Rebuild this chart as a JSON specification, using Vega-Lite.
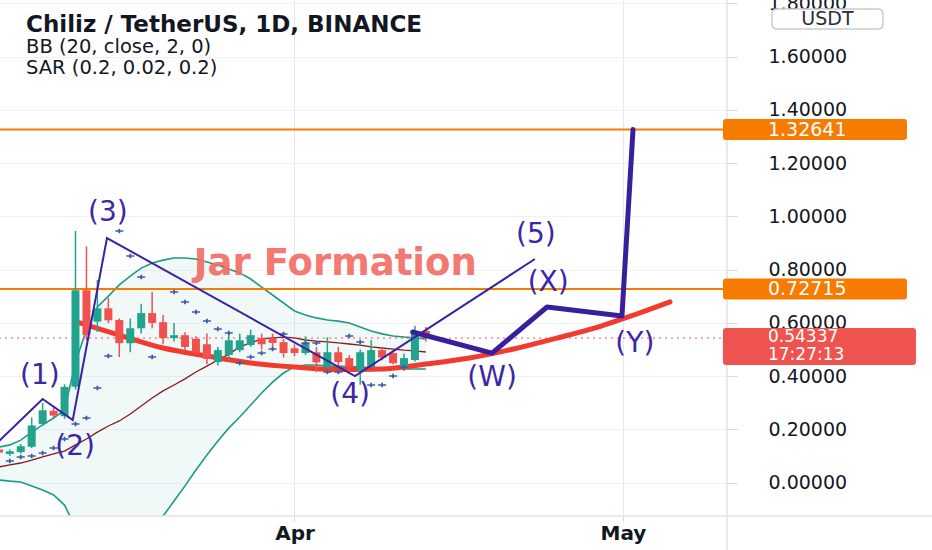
{
  "$schema": "https://vega.github.io/schema/vega-lite/v6.json",
  "width": 727,
  "height": 516,
  "autosize": {"type": "none"},
  "padding": {"left": 0, "top": 0, "right": 205, "bottom": 34},
  "background": "#ffffff",
  "config": {"view": {"stroke": null}, "font": "DejaVu Sans"},
  "title": {
    "text": "Chiliz / TetherUS, 1D, BINANCE",
    "subtitle": ["BB (20, close, 2, 0)", "SAR (0.2, 0.02, 0.2)"],
    "anchor": "start",
    "frame": "group",
    "orient": "top",
    "offset": -83,
    "dx": 26,
    "font": "DejaVu Sans",
    "fontSize": 23,
    "fontWeight": "bold",
    "color": "#131722",
    "subtitleFont": "DejaVu Sans",
    "subtitleFontSize": 19.5,
    "subtitleColor": "#131722",
    "subtitlePadding": 1,
    "subtitleLineHeight": 21
  },
  "datasets": {
    "candles": [
      {"date": "2021-03-05", "open": 0.125, "high": 0.13, "low": 0.105, "close": 0.113},
      {"date": "2021-03-06", "open": 0.108, "high": 0.125, "low": 0.1, "close": 0.118},
      {"date": "2021-03-07", "open": 0.115, "high": 0.145, "low": 0.11, "close": 0.137},
      {"date": "2021-03-08", "open": 0.135, "high": 0.245, "low": 0.13, "close": 0.215},
      {"date": "2021-03-09", "open": 0.22, "high": 0.3, "low": 0.215, "close": 0.272},
      {"date": "2021-03-10", "open": 0.27, "high": 0.285, "low": 0.245, "close": 0.252},
      {"date": "2021-03-11", "open": 0.25, "high": 0.37, "low": 0.24, "close": 0.36},
      {"date": "2021-03-12", "open": 0.36, "high": 0.946, "low": 0.35, "close": 0.723},
      {"date": "2021-03-13", "open": 0.723, "high": 0.888, "low": 0.535, "close": 0.555},
      {"date": "2021-03-14", "open": 0.605, "high": 0.761, "low": 0.566, "close": 0.655},
      {"date": "2021-03-15", "open": 0.655, "high": 0.694, "low": 0.6, "close": 0.61},
      {"date": "2021-03-16", "open": 0.611, "high": 0.617, "low": 0.472, "close": 0.524},
      {"date": "2021-03-17", "open": 0.524, "high": 0.617, "low": 0.49, "close": 0.58},
      {"date": "2021-03-18", "open": 0.58, "high": 0.672, "low": 0.56, "close": 0.637},
      {"date": "2021-03-19", "open": 0.637, "high": 0.716, "low": 0.58, "close": 0.6},
      {"date": "2021-03-20", "open": 0.603, "high": 0.63, "low": 0.52, "close": 0.543},
      {"date": "2021-03-21", "open": 0.543, "high": 0.6, "low": 0.53, "close": 0.554},
      {"date": "2021-03-22", "open": 0.554, "high": 0.565, "low": 0.495, "close": 0.51},
      {"date": "2021-03-23", "open": 0.54, "high": 0.55, "low": 0.48, "close": 0.49},
      {"date": "2021-03-24", "open": 0.52, "high": 0.56, "low": 0.445, "close": 0.465},
      {"date": "2021-03-25", "open": 0.453, "high": 0.51, "low": 0.44, "close": 0.498},
      {"date": "2021-03-26", "open": 0.48, "high": 0.56, "low": 0.46, "close": 0.535},
      {"date": "2021-03-27", "open": 0.498, "high": 0.56, "low": 0.49, "close": 0.535},
      {"date": "2021-03-28", "open": 0.517, "high": 0.575, "low": 0.51, "close": 0.554},
      {"date": "2021-03-29", "open": 0.543, "high": 0.56, "low": 0.5, "close": 0.52},
      {"date": "2021-03-30", "open": 0.543, "high": 0.56, "low": 0.5, "close": 0.525},
      {"date": "2021-03-31", "open": 0.528, "high": 0.54, "low": 0.47, "close": 0.487},
      {"date": "2021-04-01", "open": 0.505, "high": 0.52, "low": 0.475, "close": 0.487},
      {"date": "2021-04-02", "open": 0.487, "high": 0.55, "low": 0.48, "close": 0.525},
      {"date": "2021-04-03", "open": 0.49, "high": 0.51, "low": 0.415, "close": 0.452},
      {"date": "2021-04-04", "open": 0.434, "high": 0.546, "low": 0.43, "close": 0.49},
      {"date": "2021-04-05", "open": 0.49, "high": 0.51, "low": 0.44, "close": 0.453},
      {"date": "2021-04-06", "open": 0.468, "high": 0.48, "low": 0.415, "close": 0.434},
      {"date": "2021-04-07", "open": 0.42, "high": 0.5, "low": 0.368, "close": 0.49},
      {"date": "2021-04-08", "open": 0.434, "high": 0.535, "low": 0.43, "close": 0.498},
      {"date": "2021-04-09", "open": 0.498, "high": 0.51, "low": 0.46, "close": 0.47},
      {"date": "2021-04-10", "open": 0.487, "high": 0.49, "low": 0.445, "close": 0.449},
      {"date": "2021-04-11", "open": 0.434, "high": 0.485, "low": 0.42, "close": 0.468},
      {"date": "2021-04-12", "open": 0.461, "high": 0.59, "low": 0.455, "close": 0.566},
      {"date": "2021-04-13", "open": 0.57, "high": 0.585, "low": 0.53, "close": 0.54337}
    ],
    "bb": [
      {"date": "2021-03-05", "upper": 0.134, "basis": 0.059, "lower": 0.01},
      {"date": "2021-03-06", "upper": 0.142, "basis": 0.067, "lower": 0.006},
      {"date": "2021-03-07", "upper": 0.16, "basis": 0.074, "lower": 0.003},
      {"date": "2021-03-08", "upper": 0.19, "basis": 0.085, "lower": -0.012},
      {"date": "2021-03-09", "upper": 0.217, "basis": 0.097, "lower": -0.027},
      {"date": "2021-03-10", "upper": 0.243, "basis": 0.108, "lower": -0.046},
      {"date": "2021-03-11", "upper": 0.273, "basis": 0.119, "lower": -0.084},
      {"date": "2021-03-12", "upper": 0.453, "basis": 0.142, "lower": -0.17},
      {"date": "2021-03-13", "upper": 0.574, "basis": 0.164, "lower": -0.245},
      {"date": "2021-03-14", "upper": 0.66, "basis": 0.19, "lower": -0.279},
      {"date": "2021-03-15", "upper": 0.701, "basis": 0.213, "lower": -0.275},
      {"date": "2021-03-16", "upper": 0.743, "basis": 0.232, "lower": -0.279},
      {"date": "2021-03-17", "upper": 0.776, "basis": 0.258, "lower": -0.26},
      {"date": "2021-03-18", "upper": 0.806, "basis": 0.288, "lower": -0.23},
      {"date": "2021-03-19", "upper": 0.825, "basis": 0.318, "lower": -0.189},
      {"date": "2021-03-20", "upper": 0.836, "basis": 0.345, "lower": -0.125},
      {"date": "2021-03-21", "upper": 0.844, "basis": 0.367, "lower": -0.069},
      {"date": "2021-03-22", "upper": 0.844, "basis": 0.39, "lower": -0.012},
      {"date": "2021-03-23", "upper": 0.84, "basis": 0.416, "lower": 0.048},
      {"date": "2021-03-24", "upper": 0.829, "basis": 0.438, "lower": 0.104},
      {"date": "2021-03-25", "upper": 0.818, "basis": 0.461, "lower": 0.157},
      {"date": "2021-03-26", "upper": 0.803, "basis": 0.483, "lower": 0.205},
      {"date": "2021-03-27", "upper": 0.788, "basis": 0.51, "lower": 0.247},
      {"date": "2021-03-28", "upper": 0.765, "basis": 0.525, "lower": 0.292},
      {"date": "2021-03-29", "upper": 0.735, "basis": 0.54, "lower": 0.337},
      {"date": "2021-03-30", "upper": 0.705, "basis": 0.544, "lower": 0.378},
      {"date": "2021-03-31", "upper": 0.675, "basis": 0.547, "lower": 0.412},
      {"date": "2021-04-01", "upper": 0.645, "basis": 0.544, "lower": 0.435},
      {"date": "2021-04-02", "upper": 0.63, "basis": 0.536, "lower": 0.442},
      {"date": "2021-04-03", "upper": 0.619, "basis": 0.532, "lower": 0.442},
      {"date": "2021-04-04", "upper": 0.611, "basis": 0.529, "lower": 0.438},
      {"date": "2021-04-05", "upper": 0.607, "basis": 0.525, "lower": 0.438},
      {"date": "2021-04-06", "upper": 0.6, "basis": 0.521, "lower": 0.435},
      {"date": "2021-04-07", "upper": 0.585, "basis": 0.517, "lower": 0.435},
      {"date": "2021-04-08", "upper": 0.57, "basis": 0.51, "lower": 0.431},
      {"date": "2021-04-09", "upper": 0.559, "basis": 0.506, "lower": 0.431},
      {"date": "2021-04-10", "upper": 0.551, "basis": 0.502, "lower": 0.431},
      {"date": "2021-04-11", "upper": 0.547, "basis": 0.498, "lower": 0.427},
      {"date": "2021-04-12", "upper": 0.544, "basis": 0.495, "lower": 0.427},
      {"date": "2021-04-13", "upper": 0.54, "basis": 0.491, "lower": 0.427}
    ],
    "sar": [
      {"date": "2021-03-06", "sar": 0.0815},
      {"date": "2021-03-07", "sar": 0.0965},
      {"date": "2021-03-08", "sar": 0.1003},
      {"date": "2021-03-09", "sar": 0.1115},
      {"date": "2021-03-10", "sar": 0.1303},
      {"date": "2021-03-11", "sar": 0.1641},
      {"date": "2021-03-12", "sar": 0.2205},
      {"date": "2021-03-13", "sar": 0.243},
      {"date": "2021-03-14", "sar": 0.3557},
      {"date": "2021-03-15", "sar": 0.4759},
      {"date": "2021-03-16", "sar": 0.9453},
      {"date": "2021-03-17", "sar": 0.8515},
      {"date": "2021-03-18", "sar": 0.7726},
      {"date": "2021-03-19", "sar": 0.4722},
      {"date": "2021-03-21", "sar": 0.7163},
      {"date": "2021-03-22", "sar": 0.6787},
      {"date": "2021-03-23", "sar": 0.6412},
      {"date": "2021-03-24", "sar": 0.6073},
      {"date": "2021-03-25", "sar": 0.5773},
      {"date": "2021-03-26", "sar": 0.5623},
      {"date": "2021-03-27", "sar": 0.4496},
      {"date": "2021-03-28", "sar": 0.4722},
      {"date": "2021-03-29", "sar": 0.4872},
      {"date": "2021-03-30", "sar": 0.5022},
      {"date": "2021-03-31", "sar": 0.5585},
      {"date": "2021-04-02", "sar": 0.5247},
      {"date": "2021-04-03", "sar": 0.5247},
      {"date": "2021-04-04", "sar": 0.4158},
      {"date": "2021-04-05", "sar": 0.4158},
      {"date": "2021-04-06", "sar": 0.551},
      {"date": "2021-04-07", "sar": 0.5285},
      {"date": "2021-04-08", "sar": 0.367},
      {"date": "2021-04-09", "sar": 0.367},
      {"date": "2021-04-10", "sar": 0.4008},
      {"date": "2021-04-11", "sar": 0.4346}
    ],
    "jar": [
      {"date": "2021-03-12T00:00:00Z", "price": 0.6054},
      {"date": "2021-03-16T00:00:00Z", "price": 0.5547},
      {"date": "2021-03-20T00:00:00Z", "price": 0.5059},
      {"date": "2021-03-24T00:00:00Z", "price": 0.4759},
      {"date": "2021-03-28T00:00:00Z", "price": 0.4496},
      {"date": "2021-04-01T00:00:00Z", "price": 0.4346},
      {"date": "2021-04-05T00:00:00Z", "price": 0.4252},
      {"date": "2021-04-09T00:00:00Z", "price": 0.4271},
      {"date": "2021-04-13T00:00:00Z", "price": 0.4458},
      {"date": "2021-04-17T00:00:00Z", "price": 0.4684},
      {"date": "2021-04-21T00:00:00Z", "price": 0.5022},
      {"date": "2021-04-25T00:00:00Z", "price": 0.5435},
      {"date": "2021-04-29T00:00:00Z", "price": 0.5885},
      {"date": "2021-05-02T00:00:00Z", "price": 0.6299},
      {"date": "2021-05-05T07:00:00Z", "price": 0.679}
    ],
    "wave": [
      {"date": "2021-03-04T00:00:00Z", "price": 0.1157},
      {"date": "2021-03-09T00:00:00Z", "price": 0.3144},
      {"date": "2021-03-11T18:00:00Z", "price": 0.2355},
      {"date": "2021-03-14T21:00:00Z", "price": 0.919},
      {"date": "2021-04-06T12:30:00Z", "price": 0.4008},
      {"date": "2021-04-22T23:00:00Z", "price": 0.8403}
    ],
    "projection": [
      {"date": "2021-04-11T19:00:00Z", "price": 0.566},
      {"date": "2021-04-19T01:00:00Z", "price": 0.487},
      {"date": "2021-04-24T01:30:00Z", "price": 0.66},
      {"date": "2021-04-30T21:45:00Z", "price": 0.626},
      {"date": "2021-05-01T22:00:00Z", "price": 1.3264}
    ],
    "waveLabels": [
      {"date": "2021-03-08T18:00:00Z", "price": 0.4008, "label": "(1)"},
      {"date": "2021-03-11T23:00:00Z", "price": 0.1345, "label": "(2)"},
      {"date": "2021-03-14T23:00:00Z", "price": 1.013, "label": "(3)"},
      {"date": "2021-04-06T02:00:00Z", "price": 0.3294, "label": "(4)"},
      {"date": "2021-04-23T01:00:00Z", "price": 0.9302, "label": "(5)"},
      {"date": "2021-04-19T01:00:00Z", "price": 0.3932, "label": "(W)"},
      {"date": "2021-04-24T04:00:00Z", "price": 0.75, "label": "(X)"},
      {"date": "2021-05-02T02:00:00Z", "price": 0.5209, "label": "(Y)"}
    ],
    "note": [
      {"date": "2021-04-04T17:30:00Z", "price": 0.8215, "label": "Jar Formation"}
    ],
    "levels": [
      {"price": 1.32641, "label": "1.32641"},
      {"price": 0.72715, "label": "0.72715"}
    ],
    "last": [
      {"price": 0.54337, "label": "0.54337", "countdown": "17:27:13"}
    ]
  },
  "layer": [
    {
      "data": {"name": "bb"},
      "mark": {"type": "area", "clip": true, "color": "#b9dde0", "opacity": 0.22},
      "encoding": {
        "x": {
          "field": "date", "type": "temporal",
          "scale": {"type": "utc", "padding": 0, "domain": [{"year": 2021, "month": 3, "date": 5, "hours": 2, "minutes": 31, "utc": true}, {"year": 2021, "month": 5, "date": 10, "hours": 12, "utc": true}]},
          "axis": {
            "values": [{"year": 2021, "month": 4, "date": 1, "utc": true}, {"year": 2021, "month": 5, "date": 1, "utc": true}],
            "format": "%b", "title": null, "domain": false,
            "labelFont": "DejaVu Sans", "labelFontSize": 20, "labelFontWeight": "bold", "labelColor": "#131722",
            "labelBaseline": "middle", "labelPadding": 12, "labelFlush": false,
            "ticks": true, "tickSize": 5, "tickColor": "#d6d9e0",
            "grid": true, "gridColor": "#e6e8ee", "gridWidth": 1
          }
        },
        "y": {
          "field": "lower", "type": "quantitative",
          "scale": {"domain": [-0.125, 1.813], "nice": false, "zero": false},
          "axis": {
            "orient": "right",
            "values": [0, 0.2, 0.4, 0.6, 0.8, 1.0, 1.2, 1.4, 1.6, 1.8],
            "format": ".5f", "title": null, "domain": false,
            "labelFont": "DejaVu Sans", "labelFontSize": 19, "labelColor": "#131722",
            "labelAlign": "left", "labelPadding": 31, "labelOverlap": false,
            "ticks": true, "tickSize": 10, "tickColor": "#d6d9e0",
            "grid": true, "gridColor": "#eff1f5", "gridWidth": 1
          }
        },
        "y2": {"field": "upper"}
      }
    },
    {
      "data": {"name": "bb"},
      "mark": {"type": "line", "clip": true, "color": "#1e9b85", "strokeWidth": 1.6},
      "encoding": {
        "x": {"field": "date", "type": "temporal", "scale": {"type": "utc", "padding": 0, "domain": [{"year": 2021, "month": 3, "date": 5, "hours": 2, "minutes": 31, "utc": true}, {"year": 2021, "month": 5, "date": 10, "hours": 12, "utc": true}]}},
        "y": {"field": "upper", "type": "quantitative", "scale": {"domain": [-0.125, 1.813], "nice": false, "zero": false}}
      }
    },
    {
      "data": {"name": "bb"},
      "mark": {"type": "line", "clip": true, "color": "#1e9b85", "strokeWidth": 1.6},
      "encoding": {
        "x": {"field": "date", "type": "temporal", "scale": {"type": "utc", "padding": 0, "domain": [{"year": 2021, "month": 3, "date": 5, "hours": 2, "minutes": 31, "utc": true}, {"year": 2021, "month": 5, "date": 10, "hours": 12, "utc": true}]}},
        "y": {"field": "lower", "type": "quantitative", "scale": {"domain": [-0.125, 1.813], "nice": false, "zero": false}}
      }
    },
    {
      "data": {"name": "bb"},
      "mark": {"type": "line", "clip": true, "color": "#8b1a1a", "strokeWidth": 1.3},
      "encoding": {
        "x": {"field": "date", "type": "temporal", "scale": {"type": "utc", "padding": 0, "domain": [{"year": 2021, "month": 3, "date": 5, "hours": 2, "minutes": 31, "utc": true}, {"year": 2021, "month": 5, "date": 10, "hours": 12, "utc": true}]}},
        "y": {"field": "basis", "type": "quantitative", "scale": {"domain": [-0.125, 1.813], "nice": false, "zero": false}}
      }
    },
    {
      "data": {"name": "levels"},
      "mark": {"type": "rule", "color": "#f57c00", "strokeWidth": 2},
      "encoding": {
        "y": {"field": "price", "type": "quantitative", "scale": {"domain": [-0.125, 1.813], "nice": false, "zero": false}}
      }
    },
    {
      "data": {"name": "last"},
      "mark": {"type": "rule", "color": "#ef5350", "strokeWidth": 1, "strokeDash": [2, 4]},
      "encoding": {
        "y": {"field": "price", "type": "quantitative", "scale": {"domain": [-0.125, 1.813], "nice": false, "zero": false}}
      }
    },
    {
      "data": {"name": "jar"},
      "mark": {"type": "line", "interpolate": "monotone", "color": "#f23a2e", "strokeWidth": 5, "strokeCap": "round"},
      "encoding": {
        "x": {"field": "date", "type": "temporal", "scale": {"type": "utc", "padding": 0, "domain": [{"year": 2021, "month": 3, "date": 5, "hours": 2, "minutes": 31, "utc": true}, {"year": 2021, "month": 5, "date": 10, "hours": 12, "utc": true}]}},
        "y": {"field": "price", "type": "quantitative", "scale": {"domain": [-0.125, 1.813], "nice": false, "zero": false}}
      }
    },
    {
      "data": {"name": "candles"},
      "mark": {"type": "rule", "strokeWidth": 1.5, "clip": true},
      "encoding": {
        "x": {"field": "date", "type": "temporal", "scale": {"type": "utc", "padding": 0, "domain": [{"year": 2021, "month": 3, "date": 5, "hours": 2, "minutes": 31, "utc": true}, {"year": 2021, "month": 5, "date": 10, "hours": 12, "utc": true}]}},
        "y": {"field": "low", "type": "quantitative", "scale": {"domain": [-0.125, 1.813], "nice": false, "zero": false}},
        "y2": {"field": "high"},
        "color": {"condition": {"test": "datum.close > datum.open", "value": "#22a38e"}, "value": "#f0514f"}
      }
    },
    {
      "data": {"name": "candles"},
      "mark": {"type": "bar", "width": 8, "clip": true},
      "encoding": {
        "x": {"field": "date", "type": "temporal", "scale": {"type": "utc", "padding": 0, "domain": [{"year": 2021, "month": 3, "date": 5, "hours": 2, "minutes": 31, "utc": true}, {"year": 2021, "month": 5, "date": 10, "hours": 12, "utc": true}]}},
        "y": {"field": "open", "type": "quantitative", "scale": {"domain": [-0.125, 1.813], "nice": false, "zero": false}},
        "y2": {"field": "close"},
        "color": {"condition": {"test": "datum.close > datum.open", "value": "#22a38e"}, "value": "#f0514f"}
      }
    },
    {
      "data": {"name": "sar"},
      "mark": {"type": "point", "filled": true, "opacity": 1, "size": 64, "color": "#3d5aa8", "shape": "M-1,-0.18H1V0.18H-1Z M-0.22,-0.55H0.22V0.55H-0.22Z"},
      "encoding": {
        "x": {"field": "date", "type": "temporal", "scale": {"type": "utc", "padding": 0, "domain": [{"year": 2021, "month": 3, "date": 5, "hours": 2, "minutes": 31, "utc": true}, {"year": 2021, "month": 5, "date": 10, "hours": 12, "utc": true}]}},
        "y": {"field": "sar", "type": "quantitative", "scale": {"domain": [-0.125, 1.813], "nice": false, "zero": false}}
      }
    },
    {
      "data": {"name": "wave"},
      "mark": {"type": "line", "clip": true, "color": "#3b22a3", "strokeWidth": 2},
      "encoding": {
        "x": {"field": "date", "type": "temporal", "scale": {"type": "utc", "padding": 0, "domain": [{"year": 2021, "month": 3, "date": 5, "hours": 2, "minutes": 31, "utc": true}, {"year": 2021, "month": 5, "date": 10, "hours": 12, "utc": true}]}},
        "y": {"field": "price", "type": "quantitative", "scale": {"domain": [-0.125, 1.813], "nice": false, "zero": false}}
      }
    },
    {
      "data": {"name": "projection"},
      "mark": {"type": "line", "color": "#3a1f9c", "strokeWidth": 5, "strokeJoin": "round", "strokeCap": "round"},
      "encoding": {
        "x": {"field": "date", "type": "temporal", "scale": {"type": "utc", "padding": 0, "domain": [{"year": 2021, "month": 3, "date": 5, "hours": 2, "minutes": 31, "utc": true}, {"year": 2021, "month": 5, "date": 10, "hours": 12, "utc": true}]}},
        "y": {"field": "price", "type": "quantitative", "scale": {"domain": [-0.125, 1.813], "nice": false, "zero": false}}
      }
    },
    {
      "data": {"name": "note"},
      "mark": {"type": "text", "font": "DejaVu Sans", "fontSize": 37, "fontWeight": "bold", "color": "#f26b62", "opacity": 0.9, "align": "center", "baseline": "middle"},
      "encoding": {
        "x": {"field": "date", "type": "temporal", "scale": {"type": "utc", "padding": 0, "domain": [{"year": 2021, "month": 3, "date": 5, "hours": 2, "minutes": 31, "utc": true}, {"year": 2021, "month": 5, "date": 10, "hours": 12, "utc": true}]}},
        "y": {"field": "price", "type": "quantitative", "scale": {"domain": [-0.125, 1.813], "nice": false, "zero": false}},
        "text": {"field": "label"}
      }
    },
    {
      "data": {"name": "waveLabels"},
      "mark": {"type": "text", "font": "DejaVu Sans", "fontSize": 28, "color": "#3d27a6", "align": "center", "baseline": "middle"},
      "encoding": {
        "x": {"field": "date", "type": "temporal", "scale": {"type": "utc", "padding": 0, "domain": [{"year": 2021, "month": 3, "date": 5, "hours": 2, "minutes": 31, "utc": true}, {"year": 2021, "month": 5, "date": 10, "hours": 12, "utc": true}]}},
        "y": {"field": "price", "type": "quantitative", "scale": {"domain": [-0.125, 1.813], "nice": false, "zero": false}},
        "text": {"field": "label"}
      }
    },
    {
      "data": {"values": [{}]},
      "mark": {"type": "rule", "color": "#e0e3eb", "strokeWidth": 1.5},
      "encoding": {
        "x": {"datum": {"year": 2021, "month": 3, "date": 5, "hours": 2, "minutes": 31, "utc": true}, "type": "temporal", "scale": {"type": "utc", "padding": 0, "domain": [{"year": 2021, "month": 3, "date": 5, "hours": 2, "minutes": 31, "utc": true}, {"year": 2021, "month": 5, "date": 10, "hours": 12, "utc": true}]}},
        "x2": {"datum": {"year": 2021, "month": 6, "date": 5, "utc": true}},
        "y": {"datum": -0.125, "type": "quantitative", "scale": {"domain": [-0.125, 1.813], "nice": false, "zero": false}}
      }
    },
    {
      "data": {"values": [{}]},
      "mark": {"type": "rule", "color": "#e0e3eb", "strokeWidth": 1.5},
      "encoding": {
        "x": {"datum": {"year": 2021, "month": 5, "date": 10, "hours": 12, "utc": true}, "type": "temporal", "scale": {"type": "utc", "padding": 0, "domain": [{"year": 2021, "month": 3, "date": 5, "hours": 2, "minutes": 31, "utc": true}, {"year": 2021, "month": 5, "date": 10, "hours": 12, "utc": true}]}},
        "y": {"datum": 1.813, "type": "quantitative", "scale": {"domain": [-0.125, 1.813], "nice": false, "zero": false}},
        "y2": {"datum": -0.27}
      }
    },
    {
      "data": {"name": "levels"},
      "mark": {"type": "point", "filled": true, "opacity": 1, "size": 40000, "color": "#f57c00",
        "shape": "M0.03,-0.105H1.81Q1.84,-0.105 1.84,-0.075V0.075Q1.84,0.105 1.81,0.105H0.03Q0,0.105 0,0.075V-0.075Q0,-0.105 0.03,-0.105Z"},
      "encoding": {
        "x": {"datum": {"year": 2021, "month": 5, "date": 10, "hours": 3, "minutes": 10, "utc": true}, "type": "temporal", "scale": {"type": "utc", "padding": 0, "domain": [{"year": 2021, "month": 3, "date": 5, "hours": 2, "minutes": 31, "utc": true}, {"year": 2021, "month": 5, "date": 10, "hours": 12, "utc": true}]}},
        "y": {"field": "price", "type": "quantitative", "scale": {"domain": [-0.125, 1.813], "nice": false, "zero": false}}
      }
    },
    {
      "data": {"name": "last"},
      "mark": {"type": "point", "filled": true, "opacity": 1, "size": 40000, "color": "#ef5350",
        "shape": "M0.03,-0.1H1.9Q1.93,-0.1 1.93,-0.07V0.24Q1.93,0.27 1.9,0.27H0.03Q0,0.27 0,0.24V-0.07Q0,-0.1 0.03,-0.1Z"},
      "encoding": {
        "x": {"datum": {"year": 2021, "month": 5, "date": 10, "hours": 3, "minutes": 10, "utc": true}, "type": "temporal", "scale": {"type": "utc", "padding": 0, "domain": [{"year": 2021, "month": 3, "date": 5, "hours": 2, "minutes": 31, "utc": true}, {"year": 2021, "month": 5, "date": 10, "hours": 12, "utc": true}]}},
        "y": {"field": "price", "type": "quantitative", "scale": {"domain": [-0.125, 1.813], "nice": false, "zero": false}}
      }
    },
    {
      "data": {"name": "levels"},
      "mark": {"type": "text", "font": "DejaVu Sans", "fontSize": 19, "color": "#ffffff", "align": "left", "baseline": "middle", "dx": 45},
      "encoding": {
        "x": {"datum": {"year": 2021, "month": 5, "date": 10, "hours": 3, "minutes": 10, "utc": true}, "type": "temporal", "scale": {"type": "utc", "padding": 0, "domain": [{"year": 2021, "month": 3, "date": 5, "hours": 2, "minutes": 31, "utc": true}, {"year": 2021, "month": 5, "date": 10, "hours": 12, "utc": true}]}},
        "y": {"field": "price", "type": "quantitative", "scale": {"domain": [-0.125, 1.813], "nice": false, "zero": false}},
        "text": {"field": "label"}
      }
    },
    {
      "data": {"name": "last"},
      "mark": {"type": "text", "font": "DejaVu Sans", "fontSize": 17, "color": "#ffffff", "align": "left", "baseline": "middle", "dx": 45, "dy": -1},
      "encoding": {
        "x": {"datum": {"year": 2021, "month": 5, "date": 10, "hours": 3, "minutes": 10, "utc": true}, "type": "temporal", "scale": {"type": "utc", "padding": 0, "domain": [{"year": 2021, "month": 3, "date": 5, "hours": 2, "minutes": 31, "utc": true}, {"year": 2021, "month": 5, "date": 10, "hours": 12, "utc": true}]}},
        "y": {"field": "price", "type": "quantitative", "scale": {"domain": [-0.125, 1.813], "nice": false, "zero": false}},
        "text": {"field": "label"}
      }
    },
    {
      "data": {"name": "last"},
      "mark": {"type": "text", "font": "DejaVu Sans", "fontSize": 17, "color": "#ffffff", "align": "left", "baseline": "middle", "dx": 45, "dy": 17},
      "encoding": {
        "x": {"datum": {"year": 2021, "month": 5, "date": 10, "hours": 3, "minutes": 10, "utc": true}, "type": "temporal", "scale": {"type": "utc", "padding": 0, "domain": [{"year": 2021, "month": 3, "date": 5, "hours": 2, "minutes": 31, "utc": true}, {"year": 2021, "month": 5, "date": 10, "hours": 12, "utc": true}]}},
        "y": {"field": "price", "type": "quantitative", "scale": {"domain": [-0.125, 1.813], "nice": false, "zero": false}},
        "text": {"field": "countdown"}
      }
    },
    {
      "data": {"values": [{"unit": "USDT"}]},
      "mark": {"type": "point", "filled": true, "opacity": 1, "size": 40000, "fill": "#ffffff", "stroke": "#c9ccd3", "strokeWidth": 1.5,
        "shape": "M0.05,-0.1H1.06Q1.11,-0.1 1.11,-0.05V0.05Q1.11,0.1 1.06,0.1H0.05Q0,0.1 0,0.05V-0.05Q0,-0.1 0.05,-0.1Z"},
      "encoding": {
        "x": {"datum": {"year": 2021, "month": 5, "date": 14, "hours": 14, "minutes": 34, "utc": true}, "type": "temporal", "scale": {"type": "utc", "padding": 0, "domain": [{"year": 2021, "month": 3, "date": 5, "hours": 2, "minutes": 31, "utc": true}, {"year": 2021, "month": 5, "date": 10, "hours": 12, "utc": true}]}},
        "y": {"datum": 1.7413, "type": "quantitative", "scale": {"domain": [-0.125, 1.813], "nice": false, "zero": false}}
      }
    },
    {
      "data": {"values": [{"unit": "USDT"}]},
      "mark": {"type": "text", "font": "DejaVu Sans", "fontSize": 19, "color": "#2a2e39", "align": "center", "baseline": "middle", "dx": 55.5},
      "encoding": {
        "x": {"datum": {"year": 2021, "month": 5, "date": 14, "hours": 14, "minutes": 34, "utc": true}, "type": "temporal", "scale": {"type": "utc", "padding": 0, "domain": [{"year": 2021, "month": 3, "date": 5, "hours": 2, "minutes": 31, "utc": true}, {"year": 2021, "month": 5, "date": 10, "hours": 12, "utc": true}]}},
        "y": {"datum": 1.7413, "type": "quantitative", "scale": {"domain": [-0.125, 1.813], "nice": false, "zero": false}},
        "text": {"field": "unit"}
      }
    }
  ]
}
